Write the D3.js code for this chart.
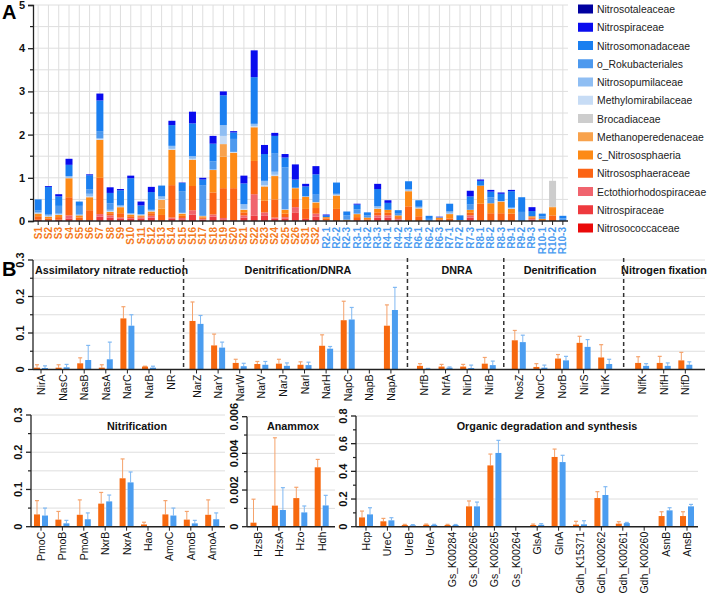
<!DOCTYPE html>
<html><head><meta charset="utf-8">
<script src="https://cdn.jsdelivr.net/npm/d3@7"></script>
<style>body{margin:0;background:#fff}svg{font-family:Arial,"Liberation Sans",sans-serif}</style>
</head><body><svg id="c" width="709" height="595"></svg>
<script>
// ---------------- DATA: panel A ----------------
const samples = ["S1","S2","S3","S4","S5","S6","S7","S8","S9","S10","S11","S12","S13","S14","S15","S16","S17","S18","S19","S20","S21","S22","S23","S24","S25","S26","S31","S32",
"R2-1","R2-2","R2-3","R3-1","R3-2","R3-3","R4-1","R4-2","R4-3","R6-1","R6-2","R6-3","R7-1","R7-2","R7-3","R8-1","R8-2","R8-3","R9-1","R9-2","R9-3","R10-1","R10-2","R10-3"];
// stacking order bottom -> top
const familyNames = ["Nitrosococcaceae","Nitrospiraceae","Ectothiorhodospiraceae","Nitrososphaeraceae","c_Nitrososphaeria","Methanoperedenaceae","Brocadiaceae","Methylomirabilaceae","Nitrosopumilaceae","o_Rokubacteriales","Nitrosomonadaceae","Nitrospiraceae","Nitrosotaleaceae"];
const familyColors = ["#ea0a0a","#ee3a3e","#f0646e","#fc6414","#fd8a16","#f8a24c","#cdcdcd","#c7dcf5","#8fbef3","#4d99ee","#1a7ff0","#0a0cee","#0000a0"];
const nitrosococcaceae = [0,0,0,0,0,0,0,0,0,0,0,0,0,0,0,0,0,0,0,0,0,0,0,0,0,0,0,0, 0,0,0,0,0,0,0,0,0,0,0,0,0,0,0,0,0,0,0,0,0,0,0,0];
const nitrospiraceaeRed = [0.03,0.02,0.03,0.06,0.02,0.02,0.1,0.08,0.05,0.05,0.06,0.08,0.02,0.05,0.04,0.15,0.03,0.1,0.04,0.02,0.08,0.12,0.12,0.05,0.05,0.2,0.05,0.1, 0.01,0,0,0.02,0,0.08,0.08,0.03,0,0,0,0,0,0,0.08,0,0,0,0,0,0.03,0,0,0];
const ectothiorhodospiraceae = [0,0,0,0.07,0,0,0.06,0.05,0.03,0.02,0.02,0.04,0,0.03,0.03,0.1,0.02,0.05,0.03,0,0.05,0.5,0.08,0.03,0.04,0.12,0,0.07, 0,0,0,0,0,0.05,0.05,0.02,0,0,0,0,0,0,0.05,0,0,0,0,0,0.02,0,0,0];
const nitrososphaeraceae = [0.08,0.04,0.06,0.42,0.06,0.23,0.84,0.05,0.1,0.04,0.03,0.06,0.12,0.75,0.05,0.56,0.03,0.51,0.69,0.74,0.07,0.77,0.27,0.42,0.08,0.19,0.23,0.13, 0.05,0.28,0.01,0.07,0.04,0.07,0.06,0.04,0.34,0.11,0,0.04,0.06,0.01,0.06,0.4,0.18,0.18,0.17,0,0.03,0.02,0.13,0];
const cNitrososphaeria = [0.06,0.04,0.05,0.44,0.05,0.3,0.88,0.03,0.14,0.04,0.02,0.04,0.15,0.82,0.05,0.61,0.03,0.52,0.73,0.82,0.06,0.78,0.33,0.54,0.09,0.25,0.28,0.13, 0.03,0.31,0.02,0.07,0.04,0.08,0.07,0.04,0.35,0.18,0,0.04,0.1,0.01,0.07,0.42,0.23,0.27,0.11,0,0.03,0.03,0.17,0];
const methanoperedenaceae = [0,0,0,0,0,0,0,0,0,0,0,0,0.2,0,0,0,0,0,0.29,0,0,0,0,0,0,0,0,0, 0,0,0,0,0,0,0,0,0,0,0,0,0,0,0,0,0,0,0,0,0,0,0.03,0];
const brocadiaceae = [0,0,0,0,0,0,0,0,0,0,0,0,0,0,0,0,0,0,0,0,0,0,0,0,0,0,0,0, 0,0,0,0,0,0,0,0,0,0,0,0,0,0,0,0,0,0,0,0,0,0,0.6,0];
const methylomirabilaceae = [0.01,0.01,0.01,0.01,0,0.02,0.02,0.02,0.01,0.01,0.01,0.01,0.02,0.02,0.02,0.02,0.01,0.01,0.19,0.02,0.02,0.03,0.03,0.03,0.01,0.01,0.01,0.01, 0,0.01,0,0.01,0,0.01,0,0,0.01,0.01,0,0,0.01,0,0,0,0,0.01,0.01,0,0,0,0,0];
const nitrosopumilaceae = [0.02,0.02,0.02,0.04,0.02,0.06,0.02,0.03,0.03,0.02,0.02,0.03,0.06,0.07,0,0.06,0,0,0.25,0,0.11,0.05,0.1,0.07,0,0,0,0, 0,0.03,0,0,0,0.05,0,0,0.04,0.03,0,0,0.05,0,0,0,0,0,0.02,0,0,0,0,0];
const rokubacteriales = [0.05,0.02,0.18,0,0.2,0.1,0.16,0.15,0,0,0,0,0,0,0.5,0,0.7,0.19,0,0.3,0,0,0,0.42,0.97,0,0,0.17, 0,0,0.1,0.1,0.05,0,0,0.04,0,0,0.05,0,0,0,0.12,0,0.14,0,0,0.21,0,0.06,0,0.06];
const nitrosomonadaceae = [0.25,0.64,0.22,0.26,0.1,0.33,0.71,0.24,0.35,0.81,0.2,0.41,0.25,0.48,0.19,0.76,0.14,0.41,0.69,0.15,0.48,1.08,0.62,0.41,0.23,0.19,0.23,0.47, 0.04,0.26,0.09,0.11,0.07,0.4,0.16,0.08,0.18,0.15,0.07,0.01,0.18,0.11,0.19,0.11,0.13,0.17,0.38,0.34,0.12,0.06,0,0.06];
const nitrospiraceaeBlue = [0,0.02,0.05,0.14,0,0.02,0.16,0.13,0.03,0.06,0.09,0.12,0,0.1,0.01,0.27,0.04,0.18,0.09,0.03,0.18,0.62,0.21,0.07,0.08,0.35,0.06,0.19, 0.02,0,0,0.02,0,0.12,0.06,0,0,0,0,0.01,0,0,0.13,0.03,0.04,0.03,0.03,0,0.09,0,0,0];
const nitrosotaleaceae = [0,0,0,0,0,0,0,0,0,0,0,0,0,0,0,0,0,0,0,0,0,0,0,0,0,0,0,0, 0,0,0,0,0,0,0,0,0,0,0,0,0,0,0,0,0,0,0,0,0,0,0,0];
const familySeries = [nitrosococcaceae,nitrospiraceaeRed,ectothiorhodospiraceae,nitrososphaeraceae,cNitrososphaeria,methanoperedenaceae,brocadiaceae,methylomirabilaceae,nitrosopumilaceae,rokubacteriales,nitrosomonadaceae,nitrospiraceaeBlue,nitrosotaleaceae];
const yTicksA = [0,1,2,3,4,5];

// ---------------- DATA: panel B ----------------
const topGroups = ["Assimilatory nitrate reduction","Denitrification/DNRA","DNRA","Denitrification","Nitrogen fixation"];
const topGroupSizes = [7,10,4,5,3];
const topGenes = ["NirA","NasC","NasB","NasA","NarC","NarB","NR","NarZ","NarY","NarW","NarV","NarJ","NarI","NarH","NapC","NapB","NapA","NrfB","NrfA","NirD","NirB","NosZ","NorC","NorB","NirS","NirK","NifK","NifH","NifD"];
const topOrange = [0.005,0.005,0.017,0.005,0.140,0.008,0,0.133,0.066,0.018,0.015,0.016,0.013,0.065,0.135,0.001,0.120,0.010,0.008,0.008,0.016,0.080,0.007,0.030,0.073,0.033,0.018,0.018,0.025];
const topOrangeSd = [0.008,0.008,0.015,0.008,0.032,0.001,0,0.052,0.031,0.010,0.007,0.012,0.008,0.030,0.052,0,0.057,0.006,0.006,0.006,0.017,0.027,0.009,0.011,0.018,0.035,0.017,0.018,0.022];
const topBlue = [0.004,0.006,0.026,0.028,0.120,0.005,0,0.125,0.060,0.009,0.013,0.010,0.012,0.057,0.137,0.001,0.163,0.002,0.005,0.004,0.012,0.075,0.005,0.025,0.062,0.015,0.010,0.010,0.013];
const topBlueSd = [0.006,0.008,0.040,0.047,0.030,0.004,0,0.023,0.015,0.008,0.009,0.008,0.008,0.006,0.033,0,0.062,0.001,0.002,0.008,0.011,0.019,0.007,0.011,0.020,0.013,0.006,0.008,0.008];
const topTicks = [0,0.1,0.2,0.3];

const nitGenes = ["PmoC","PmoB","PmoA","NxrB","NxrA","Hao","AmoC","AmoB","AmoA"];
const nitOrange = [0.033,0.019,0.032,0.062,0.130,0.006,0.033,0.019,0.032];
const nitOrangeSd = [0.037,0.022,0.040,0.030,0.052,0.006,0.037,0.022,0.040];
const nitBlue = [0.030,0.009,0.020,0.068,0.119,0,0.030,0.009,0.020];
const nitBlueSd = [0.020,0.008,0.017,0.017,0.028,0,0.020,0.008,0.017];
const nitTicks = [0,0.1,0.2,0.3];

const anaGenes = ["HzsB","HzsA","Hzo","Hdh"];
const anaOrange = [0.00022,0.00115,0.00156,0.00324];
const anaOrangeSd = [0.00128,0.0037,0.00059,0.00043];
const anaBlue = [0,0.00091,0.00078,0.00116];
const anaBlueSd = [0,0.00122,0.00035,0.00055];
const anaTicks = [0,0.002,0.004,0.006];

const orgGenes = ["Hcp","UreC","UreB","UreA","Gs_K00284","Gs_K00266","Gs_K00265","Gs_K00264","GlsA","GlnA","Gdh_K15371","Gdh_K00262","Gdh_K00261","Gdh_K00260","AsnB","AnsB"];
const orgOrange = [0.067,0.039,0.012,0.014,0.012,0.147,0.443,0,0.012,0.504,0.015,0.207,0.022,0.003,0.077,0.077];
const orgOrangeSd = [0.046,0.021,0.005,0.005,0.005,0.039,0.082,0,0.007,0.057,0.024,0.046,0.014,0,0.031,0.031];
const orgBlue = [0.089,0.046,0.010,0.012,0.012,0.147,0.533,0,0.014,0.467,0.017,0.229,0.026,0.002,0.118,0.147];
const orgBlueSd = [0.048,0.019,0.005,0.005,0.004,0.031,0.091,0,0.008,0.049,0.026,0.060,0.005,0,0.019,0.014];
const orgTicks = [0,0.2,0.4,0.6,0.8];

// ---------------- DRAW ----------------
const svg = d3.select("#c");
const AX = "#222", GRID = "#dedede";
const ORANGE = "#f7690f", BLUE = "#4b9df0", ORANGE_E = "#f5a36c", BLUE_E = "#80b9f3";

// Panel A
const xA = d3.scaleBand().domain(samples).range([33,568]).paddingInner(0.32).paddingOuter(0.16);
const yA = d3.scaleLinear().domain([0,5]).range([221,5]);
const cx = s => xA(s) + xA.bandwidth()/2;
const gA = svg.append("g");
gA.selectAll(".hg").data(d3.range(0.5,5.01,0.5)).join("line")
  .attr("x1",33).attr("x2",568).attr("y1",d=>yA(d)).attr("y2",d=>yA(d)).attr("stroke",GRID);
gA.selectAll(".vg").data(samples).join("line")
  .attr("x1",cx).attr("x2",cx).attr("y1",yA(5)).attr("y2",yA(0)).attr("stroke",GRID);
const keys = familySeries.map((_,j)=>"k"+j);
const rows = samples.map((s,i)=>{const o={sample:s}; familySeries.forEach((arr,j)=>o["k"+j]=arr[i]); return o;});
const stacked = d3.stack().keys(keys)(rows);
gA.selectAll(".ser").data(stacked).join("g").attr("fill",(d,j)=>familyColors[j])
  .selectAll("rect").data(d=>d).join("rect")
  .attr("x",d=>xA(d.data.sample)).attr("width",xA.bandwidth())
  .attr("y",d=>yA(d[1])).attr("height",d=>Math.max(0,yA(d[0])-yA(d[1])));
const axA = gA.append("g").attr("transform","translate(33,0)")
  .call(d3.axisLeft(yA).tickValues(yTicksA).tickFormat(d3.format("d")).tickSize(5).tickPadding(3));
axA.select(".domain").attr("stroke",AX).attr("stroke-width",1.3);
axA.selectAll(".tick line").attr("stroke",AX).attr("stroke-width",1.3);
axA.selectAll("text").attr("font-size",11).attr("font-weight","bold").attr("fill","#111");
gA.selectAll(".mt").data(d3.range(0.5,5,1)).join("line")
  .attr("x1",30).attr("x2",33).attr("y1",d=>yA(d)).attr("y2",d=>yA(d)).attr("stroke",AX).attr("stroke-width",1.2);
gA.append("line").attr("x1",33).attr("x2",568).attr("y1",221).attr("y2",221).attr("stroke",AX).attr("stroke-width",1.5);
gA.selectAll(".xt").data(samples).join("line").attr("x1",cx).attr("x2",cx).attr("y1",221).attr("y2",225).attr("stroke",AX);
gA.selectAll(".xl").data(samples).join("text")
  .attr("transform",d=>`translate(${cx(d)+3.5},227) rotate(-90)`)
  .attr("text-anchor","end").attr("font-size",10).attr("font-weight","bold")
  .attr("fill",d=>d[0]==="S"?"#f47a22":"#4d9cf0").text(d=>d);
svg.append("text").attr("x",2).attr("y",19).attr("font-size",20).attr("font-weight","bold").text("A");

// Legend
const legOrder = d3.range(familyNames.length).reverse();
const lg = svg.append("g");
legOrder.forEach((j,i)=>{
  const y = 9 + i*18.25;
  lg.append("rect").attr("x",578).attr("y",y-4.5).attr("width",15).attr("height",9).attr("fill",familyColors[j]);
  lg.append("text").attr("x",597).attr("y",y+4).attr("font-size",10.4).attr("fill","#222").text(familyNames[j]);
});

// Panel B helper
function barPanel(cfg){
  const g = svg.append("g");
  const y = d3.scaleLinear().domain([0,cfg.max]).range([cfg.y0,cfg.y1]);
  g.selectAll(".gr").data(d3.range(cfg.gridStep,cfg.max+1e-9,cfg.gridStep)).join("line")
    .attr("x1",cfg.ax).attr("x2",cfg.right).attr("y1",d=>y(d)).attr("y2",d=>y(d)).attr("stroke",GRID);
  const pos = cfg.pos;
  const bw = 6;
  const data = cfg.genes.map((gname,i)=>({g:gname,x:pos[i],o:cfg.o[i],os:cfg.os[i],b:cfg.b[i],bs:cfg.bs[i]}));
  const err = (sel, key, sd, off, col)=>{
    const d2 = data.filter(d=>d[sd]>0);
    sel.selectAll(null).data(d2).join("line").attr("x1",d=>d.x+off).attr("x2",d=>d.x+off)
      .attr("y1",d=>y(d[key])).attr("y2",d=>y(d[key]+d[sd])).attr("stroke",col).attr("stroke-width",1);
    sel.selectAll(null).data(d2).join("line").attr("x1",d=>d.x+off-2).attr("x2",d=>d.x+off+2)
      .attr("y1",d=>y(d[key]+d[sd])).attr("y2",d=>y(d[key]+d[sd])).attr("stroke",col).attr("stroke-width",1.2);
  };
  err(g,"o","os",-4,ORANGE_E);
  err(g,"b","bs",4,BLUE_E);
  g.selectAll(".bo").data(data).join("rect").attr("x",d=>d.x-7).attr("width",bw)
    .attr("y",d=>y(d.o)).attr("height",d=>cfg.y0-y(d.o)).attr("fill",ORANGE);
  g.selectAll(".bb").data(data).join("rect").attr("x",d=>d.x+1).attr("width",bw)
    .attr("y",d=>y(d.b)).attr("height",d=>cfg.y0-y(d.b)).attr("fill",BLUE);
  g.append("line").attr("x1",cfg.ax).attr("x2",cfg.ax).attr("y1",cfg.y1).attr("y2",cfg.y0).attr("stroke",AX).attr("stroke-width",1.3);
  const step = cfg.ticks[1]-cfg.ticks[0];
  g.selectAll(".tk").data(cfg.ticks).join("line").attr("x1",cfg.ax-5).attr("x2",cfg.ax)
    .attr("y1",d=>y(d)).attr("y2",d=>y(d)).attr("stroke",AX).attr("stroke-width",1.3);
  g.selectAll(".mtk").data(cfg.ticks.slice(0,-1).map(t=>t+step/2)).join("line").attr("x1",cfg.ax-3).attr("x2",cfg.ax)
    .attr("y1",d=>y(d)).attr("y2",d=>y(d)).attr("stroke",AX).attr("stroke-width",1.2);
  g.selectAll(".tl").data(cfg.ticks).join("text")
    .attr("transform",d=>`translate(${cfg.ax-9},${y(d)}) rotate(-90)`)
    .attr("text-anchor","middle").attr("font-size",11).attr("font-weight","bold").attr("fill","#111")
    .text(d=>d===0?"0":cfg.fmt(d));
  g.append("line").attr("x1",cfg.ax).attr("x2",cfg.right).attr("y1",cfg.y0).attr("y2",cfg.y0).attr("stroke",AX).attr("stroke-width",1.5);
  g.selectAll(".xt").data(data).join("line").attr("x1",d=>d.x).attr("x2",d=>d.x).attr("y1",cfg.y0).attr("y2",cfg.y0+4).attr("stroke",AX);
  g.selectAll(".xl").data(data).join("text")
    .attr("transform",d=>`translate(${d.x+4},${cfg.y0+5}) rotate(-90)`)
    .attr("text-anchor","end").attr("font-size",10.5).attr("fill","#111").text(d=>d.g);
  (cfg.titles||[]).forEach(t=>{
    g.append("text").attr("x",t.x).attr("y",t.y).attr("text-anchor",t.anchor||"middle")
      .attr("font-size",10.8).attr("font-weight","bold").attr("fill","#111").text(t.text);
  });
  return {g,y};
}

// Top row layout: gene slot index plus cumulative extra spacing before each group
const groupIdx = topGroupSizes.flatMap((n,gi)=>Array(n).fill(gi));
const groupShift = [0,0.2,0.73,1.12,1.83];
const xTop = d3.scaleLinear().domain([0,1]).range([41,62.6]);
const topPos = topGenes.map((_,i)=>xTop(i + groupShift[groupIdx[i]]));
barPanel({genes:topGenes,o:topOrange,os:topOrangeSd,b:topBlue,bs:topBlueSd,pos:topPos,
  max:0.3,y0:369.5,y1:260,ax:33,right:705,gridStep:0.05,ticks:topTicks,fmt:d3.format(".1f"),
  titles:[{text:topGroups[0],x:35,y:274,anchor:"start"},{text:topGroups[1],x:298,y:274},{text:topGroups[2],x:457,y:274},{text:topGroups[3],x:560,y:274},{text:topGroups[4],x:664,y:274}]});
let acc = 0;
topGroupSizes.slice(0,-1).forEach((n)=>{
  acc += n;
  const xs = (topPos[acc-1]+topPos[acc])/2;
  svg.append("line").attr("x1",xs).attr("x2",xs).attr("y1",258).attr("y2",369.5)
    .attr("stroke","#333").attr("stroke-width",1.5).attr("stroke-dasharray","4,3");
});
svg.append("text").attr("x",2).attr("y",276).attr("font-size",20).attr("font-weight","bold").text("B");

const xNit = d3.scaleLinear().domain([0,1]).range([41,62.4]);
barPanel({genes:nitGenes,o:nitOrange,os:nitOrangeSd,b:nitBlue,bs:nitBlueSd,pos:nitGenes.map((_,i)=>xNit(i)),
  max:0.3,y0:526.7,y1:415,ax:31,right:225,gridStep:0.05,ticks:nitTicks,fmt:d3.format(".1f"),
  titles:[{text:"Nitrification",x:137,y:430}]});
const xAna = d3.scaleLinear().domain([0,1]).range([257.5,278.9]);
barPanel({genes:anaGenes,o:anaOrange,os:anaOrangeSd,b:anaBlue,bs:anaBlueSd,pos:anaGenes.map((_,i)=>xAna(i)),
  max:0.006,y0:526.7,y1:416.7,ax:247,right:335,gridStep:0.001,ticks:anaTicks,fmt:d3.format(".3f"),
  titles:[{text:"Anammox",x:293,y:430}]});
const xOrg = d3.scaleLinear().domain([0,1]).range([366,387.4]);
barPanel({genes:orgGenes,o:orgOrange,os:orgOrangeSd,b:orgBlue,bs:orgBlueSd,pos:orgGenes.map((_,i)=>xOrg(i)),
  max:0.8,y0:526.7,y1:416,ax:356,right:698,gridStep:0.2,ticks:orgTicks,fmt:d3.format(".1f"),
  titles:[{text:"Organic degradation and synthesis",x:547,y:430}]});
</script></body></html>
